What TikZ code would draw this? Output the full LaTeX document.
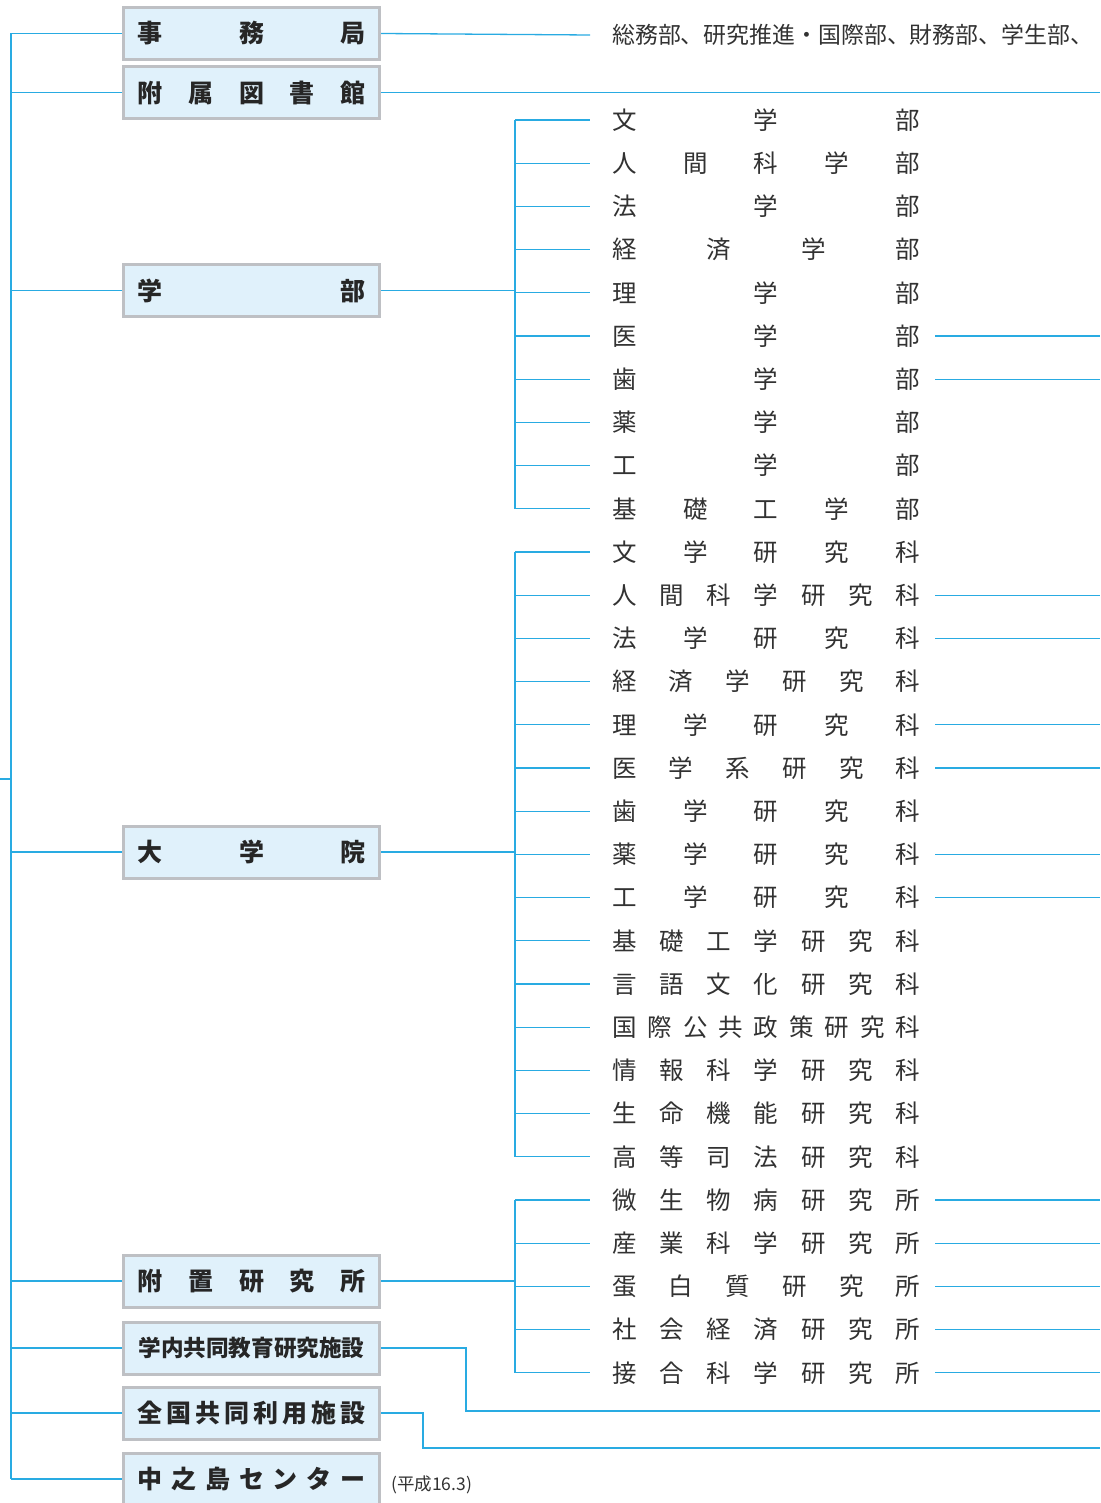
\documentclass[tikz,border=0pt]{standalone}
\usepackage{fontspec}
\newfontfamily\jpfont{Noto Sans CJK JP}
\usetikzlibrary{positioning,calc}

\definecolor{linkblue}{RGB}{41,171,226}
\definecolor{unitfill}{RGB}{224,241,251}
\definecolor{unitedge}{RGB}{190,192,196}
\definecolor{rowink}{RGB}{50,50,50}

% spread characters over a fixed width
\newcommand{\spread}[2]{\makebox[#1][l]{#2}}

\begin{document}
\begin{tikzpicture}[
  x=1pt,
  y=-1pt,
  unit/.style={
    draw=unitedge,
    line width=3pt,
    fill=unitfill,
    minimum width=256pt,
    minimum height=52pt,
    inner sep=0pt,
    text=black!85,
    font=\jpfont\bfseries\fontsize{25}{25}\selectfont
  },
  row/.style={
    anchor=west,
    inner sep=0pt,
    text=rowink,
    font=\jpfont\fontsize{24.5}{25}\selectfont
  },
  note/.style={
    anchor=west,
    inner sep=0pt,
    text=rowink,
    font=\jpfont\fontsize{17.5}{18}\selectfont
  },
  link/.style={
    linkblue,
    line width=1.3pt
  }
]
\useasboundingbox (0,0) rectangle (1100,1503);

\coordinate (spine) at (11,0);
\coordinate (ubr) at (515,0);
\coordinate (redge) at (1100,0);
\coordinate (upper) at (0,779);

% --- organisation units ---
\node[unit] (jimu) at (251.5,33.5) {\spread{228pt}{事\hfill 務\hfill 局}};
\node[unit] (lib) at (251.5,92.5) {\spread{228pt}{附\hfill 属\hfill 図\hfill 書\hfill 館}};
\node[unit] (gakubu) at (251.5,290.5) {\spread{228pt}{学\hfill 部}};
\node[unit] (inst) at (251.5,852) {\spread{228pt}{大\hfill 学\hfill 院}};
\node[unit] (fuchi) at (251.5,1281) {\spread{228pt}{附\hfill 置\hfill 研\hfill 究\hfill 所}};
\node[unit] (gakunai) at (251.5,1348)
  {{\fontsize{22.6}{23}\selectfont 学内共同教育研究施設}};
\node[unit] (zenkoku) at (251.5,1413)
  {\spread{228pt}{全\hfill 国\hfill 共\hfill 同\hfill 利\hfill 用\hfill 施\hfill 設}};
\node[unit] (naka) at (251.5,1479)
  {\spread{228pt}{中\hfill 之\hfill 島\hfill セ\hfill ン\hfill タ\hfill ー}};

\node[note] (date) at (391,1485) {(平成16.3)};

% --- office ---
\node[row,font=\jpfont\fontsize{22.9}{24}\selectfont] (somu) at (612,35)
  {総務部、研究推進・国際部、財務部、学生部、};

% --- faculties ---
\node[row] (bun) at (612,120) {\spread{308pt}{文\hfill 学\hfill 部}};
\node[row] (ningen) at (612,163.2) {\spread{308pt}{人\hfill 間\hfill 科\hfill 学\hfill 部}};
\node[row] (hou) at (612,206.4) {\spread{308pt}{法\hfill 学\hfill 部}};
\node[row] (keizai) at (612,249.6) {\spread{308pt}{経\hfill 済\hfill 学\hfill 部}};
\node[row] (ri) at (612,292.8) {\spread{308pt}{理\hfill 学\hfill 部}};
\node[row] (igaku) at (612,336) {\spread{308pt}{医\hfill 学\hfill 部}};
\node[row] (shigaku) at (612,379.2) {\spread{308pt}{歯\hfill 学\hfill 部}};
\node[row] (yaku) at (612,422.4) {\spread{308pt}{薬\hfill 学\hfill 部}};
\node[row] (kou) at (612,465.6) {\spread{308pt}{工\hfill 学\hfill 部}};
\node[row] (kiso) at (612,508.8) {\spread{308pt}{基\hfill 礎\hfill 工\hfill 学\hfill 部}};

% --- graduate schools ---
\node[row] (gbun) at (612,552) {\spread{308pt}{文\hfill 学\hfill 研\hfill 究\hfill 科}};
\node[row] (gningen) at (612,595.2)
  {\spread{308pt}{人\hfill 間\hfill 科\hfill 学\hfill 研\hfill 究\hfill 科}};
\node[row] (ghou) at (612,638.4) {\spread{308pt}{法\hfill 学\hfill 研\hfill 究\hfill 科}};
\node[row] (gkeizai) at (612,681.6)
  {\spread{308pt}{経\hfill 済\hfill 学\hfill 研\hfill 究\hfill 科}};
\node[row] (gri) at (612,724.8) {\spread{308pt}{理\hfill 学\hfill 研\hfill 究\hfill 科}};
\node[row] (gi) at (612,768)
  {\spread{308pt}{医\hfill 学\hfill 系\hfill 研\hfill 究\hfill 科}};
\node[row] (gshi) at (612,811.2) {\spread{308pt}{歯\hfill 学\hfill 研\hfill 究\hfill 科}};
\node[row] (gyaku) at (612,854.4) {\spread{308pt}{薬\hfill 学\hfill 研\hfill 究\hfill 科}};
\node[row] (gkou) at (612,897.6) {\spread{308pt}{工\hfill 学\hfill 研\hfill 究\hfill 科}};
\node[row] (gkiso) at (612,940.8)
  {\spread{308pt}{基\hfill 礎\hfill 工\hfill 学\hfill 研\hfill 究\hfill 科}};
\node[row] (ggengo) at (612,984)
  {\spread{308pt}{言\hfill 語\hfill 文\hfill 化\hfill 研\hfill 究\hfill 科}};
\node[row] (gkokusai) at (612,1027.2)
  {\spread{308pt}{国\hfill 際\hfill 公\hfill 共\hfill 政\hfill 策\hfill 研\hfill 究\hfill 科}};
\node[row] (gjoho) at (612,1070.4)
  {\spread{308pt}{情\hfill 報\hfill 科\hfill 学\hfill 研\hfill 究\hfill 科}};
\node[row] (gseimei) at (612,1113.6)
  {\spread{308pt}{生\hfill 命\hfill 機\hfill 能\hfill 研\hfill 究\hfill 科}};
\node[row] (gkoto) at (612,1156.8)
  {\spread{308pt}{高\hfill 等\hfill 司\hfill 法\hfill 研\hfill 究\hfill 科}};

% --- research institutes ---
\node[row] (biken) at (612,1200)
  {\spread{308pt}{微\hfill 生\hfill 物\hfill 病\hfill 研\hfill 究\hfill 所}};
\node[row] (sanken) at (612,1243.2)
  {\spread{308pt}{産\hfill 業\hfill 科\hfill 学\hfill 研\hfill 究\hfill 所}};
\node[row] (tanpaku) at (612,1286.4)
  {\spread{308pt}{蛋\hfill 白\hfill 質\hfill 研\hfill 究\hfill 所}};
\node[row] (shaken) at (612,1329.6)
  {\spread{308pt}{社\hfill 会\hfill 経\hfill 済\hfill 研\hfill 究\hfill 所}};
\node[row] (setsugo) at (612,1372.8)
  {\spread{308pt}{接\hfill 合\hfill 科\hfill 学\hfill 研\hfill 究\hfill 所}};

% --- spine on the left ---
\draw[link] (jimu.west -| spine) -- (naka.west -| spine);
\draw[link] (upper -| spine) -- (upper);
\draw[link] (jimu.west -| spine) -- (jimu.west);
\draw[link] (lib.west -| spine) -- (lib.west);
\draw[link] (gakubu.west -| spine) -- (gakubu.west);
\draw[link] (inst.west -| spine) -- (inst.west);
\draw[link] (fuchi.west -| spine) -- (fuchi.west);
\draw[link] (gakunai.west -| spine) -- (gakunai.west);
\draw[link] (zenkoku.west -| spine) -- (zenkoku.west);
\draw[link] (naka.west -| spine) -- (naka.west);

% --- lines leaving the units ---
\draw[link] (jimu.east) -- ([xshift=-22pt]somu.west);
\draw[link] (lib.east) -- (lib.east -| redge);
\draw[link] (gakubu.east) -- (gakubu.east -| ubr);
\draw[link] (inst.east) -- (inst.east -| ubr);
\draw[link] (fuchi.east) -- (fuchi.east -| ubr);
\coordinate (gkbend) at (466,1411);
\draw[link] (gakunai.east) -| (gkbend) -- (gkbend -| redge);
\coordinate (zkbend) at (423,1448);
\draw[link] (zenkoku.east) -| (zkbend) -- (zkbend -| redge);

% --- brackets ---
\draw[link] (bun.west -| ubr) -- (kiso.west -| ubr);
\draw[link] (gbun.west -| ubr) -- (gkoto.west -| ubr);
\draw[link] (biken.west -| ubr) -- (setsugo.west -| ubr);

\draw[link] (bun.west -| ubr) -- ([xshift=-22pt]bun.west);
\draw[link] (ningen.west -| ubr) -- ([xshift=-22pt]ningen.west);
\draw[link] (hou.west -| ubr) -- ([xshift=-22pt]hou.west);
\draw[link] (keizai.west -| ubr) -- ([xshift=-22pt]keizai.west);
\draw[link] (ri.west -| ubr) -- ([xshift=-22pt]ri.west);
\draw[link] (igaku.west -| ubr) -- ([xshift=-22pt]igaku.west);
\draw[link] (shigaku.west -| ubr) -- ([xshift=-22pt]shigaku.west);
\draw[link] (yaku.west -| ubr) -- ([xshift=-22pt]yaku.west);
\draw[link] (kou.west -| ubr) -- ([xshift=-22pt]kou.west);
\draw[link] (kiso.west -| ubr) -- ([xshift=-22pt]kiso.west);

\draw[link] (gbun.west -| ubr) -- ([xshift=-22pt]gbun.west);
\draw[link] (gningen.west -| ubr) -- ([xshift=-22pt]gningen.west);
\draw[link] (ghou.west -| ubr) -- ([xshift=-22pt]ghou.west);
\draw[link] (gkeizai.west -| ubr) -- ([xshift=-22pt]gkeizai.west);
\draw[link] (gri.west -| ubr) -- ([xshift=-22pt]gri.west);
\draw[link] (gi.west -| ubr) -- ([xshift=-22pt]gi.west);
\draw[link] (gshi.west -| ubr) -- ([xshift=-22pt]gshi.west);
\draw[link] (gyaku.west -| ubr) -- ([xshift=-22pt]gyaku.west);
\draw[link] (gkou.west -| ubr) -- ([xshift=-22pt]gkou.west);
\draw[link] (gkiso.west -| ubr) -- ([xshift=-22pt]gkiso.west);
\draw[link] (ggengo.west -| ubr) -- ([xshift=-22pt]ggengo.west);
\draw[link] (gkokusai.west -| ubr) -- ([xshift=-22pt]gkokusai.west);
\draw[link] (gjoho.west -| ubr) -- ([xshift=-22pt]gjoho.west);
\draw[link] (gseimei.west -| ubr) -- ([xshift=-22pt]gseimei.west);
\draw[link] (gkoto.west -| ubr) -- ([xshift=-22pt]gkoto.west);

\draw[link] (biken.west -| ubr) -- ([xshift=-22pt]biken.west);
\draw[link] (sanken.west -| ubr) -- ([xshift=-22pt]sanken.west);
\draw[link] (tanpaku.west -| ubr) -- ([xshift=-22pt]tanpaku.west);
\draw[link] (shaken.west -| ubr) -- ([xshift=-22pt]shaken.west);
\draw[link] (setsugo.west -| ubr) -- ([xshift=-22pt]setsugo.west);

% --- continuing to the right ---
\draw[link] ([xshift=15pt]igaku.east) -- (igaku.east -| redge);
\draw[link] ([xshift=15pt]shigaku.east) -- (shigaku.east -| redge);
\draw[link] ([xshift=15pt]gningen.east) -- (gningen.east -| redge);
\draw[link] ([xshift=15pt]ghou.east) -- (ghou.east -| redge);
\draw[link] ([xshift=15pt]gri.east) -- (gri.east -| redge);
\draw[link] ([xshift=15pt]gi.east) -- (gi.east -| redge);
\draw[link] ([xshift=15pt]gyaku.east) -- (gyaku.east -| redge);
\draw[link] ([xshift=15pt]gkou.east) -- (gkou.east -| redge);
\draw[link] ([xshift=15pt]biken.east) -- (biken.east -| redge);
\draw[link] ([xshift=15pt]sanken.east) -- (sanken.east -| redge);
\draw[link] ([xshift=15pt]tanpaku.east) -- (tanpaku.east -| redge);
\draw[link] ([xshift=15pt]shaken.east) -- (shaken.east -| redge);
\draw[link] ([xshift=15pt]setsugo.east) -- (setsugo.east -| redge);

\end{tikzpicture}
\end{document}
